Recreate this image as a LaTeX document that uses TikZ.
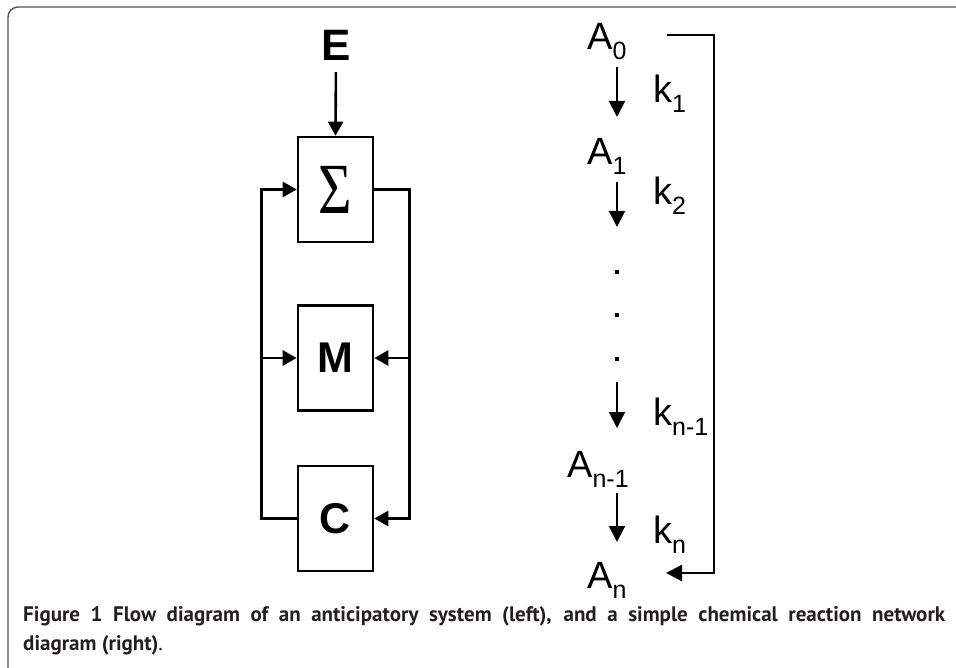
\documentclass[tikz,border=0pt]{standalone}
\usepackage{fontspec}
\setmainfont{Liberation Sans}
\newfontfamily\capfont{PT Sans}
\newfontfamily\sigfont{Liberation Serif}
\usetikzlibrary{arrows.meta,positioning}
\definecolor{captext}{HTML}{231F20}
\definecolor{framegray}{HTML}{555555}
\newcommand{\lowsub}[1]{\raisebox{-10pt}{\fontsize{25}{25}\selectfont #1}}

\begin{document}
\begin{tikzpicture}[x=1pt,y=-1pt,
    block/.style = {rectangle,draw,line width=2.6pt,minimum width=75pt,minimum height=105pt,inner sep=0pt,font=\fontsize{43}{43}\selectfont\bfseries},
    flow/.style = {line width=2.6pt,-{Triangle[length=14pt,width=15pt]}},
    react/.style = {line width=2pt,-{Triangle[length=16pt,width=16pt]}},
    chem/.style = {inner sep=0pt,anchor=base west,font=\fontsize{38}{38}\selectfont}]
\useasboundingbox (0,0) rectangle (956,668);
% frame
\draw[framegray,line width=1.4pt,rounded corners=10pt] (956,7) -- (8,7) -- (8,668);
% anticipatory system
\node[inner sep=0pt,anchor=base,font=\fontsize{44}{44}\selectfont\bfseries] (E) at (336,61) {E};
\node[block] (sig) at (335.5,189.5) {\sigfont\mdseries\fontsize{72}{72}\selectfont\scalebox{0.8}[1]{Σ}};
\node[block] (M) at (335.5,358) {M};
\node[block] (C) at (335.5,518.5) {C};
\coordinate[right=35pt of sig.east] (sigR);
\coordinate[left=35pt of C.west] (cL);
\draw[flow,shorten <=11pt] (E.south) -- (sig.north);
\draw[flow] (sig.east) -- (sigR) |- (C.east);
\draw[flow] (sigR |- M.east) -- (M.east);
\draw[flow] (C.west) -- (cL) |- (sig.west);
\draw[flow] (cL |- M.west) -- (M.west);
% reaction chain
\node[chem] (A0) at (587,50) {A\lowsub{0}};
\node[chem] (A1) at (587,165) {A\lowsub{1}};
\node[chem] (An1) at (567,477) {A\lowsub{n-1}};
\node[chem] (An) at (587,588) {A\lowsub{n}};
\foreach \lbl/\y/\name in {1/103/k1, 2/205/k2, n-1/425/kn1, n/543/kn}
    \node[chem] (\name) at (653,\y) {k\lowsub{\lbl}};
\foreach \ya/\yb [count=\i] in {67/117, 182/227, 382/428, 493/542}{
    \coordinate (r\i a) at (617,\ya);
    \coordinate (r\i b) at (617,\yb);
    \draw[react] (r\i a) -- (r\i b);
}
\foreach \y in {272,315,359}
    \fill (615,\y-2) rectangle (619,\y+2);
\coordinate (bt) at (667,35);
\coordinate (bb) at (666,573);
\coordinate (br) at (714,0);
\draw[line width=2.5pt,-{Triangle[length=16pt,width=16pt]}] (bt) -| (br |- bb) -- (bb);
% caption
\node[anchor=north west,inner sep=0pt,text width=922pt,align=justify,text=captext,
      font=\capfont\fontsize{21}{29}\selectfont] (cap) at (23,606)
    {\textbf{Figure 1 Flow diagram of an anticipatory system (left), and a simple chemical reaction network\linebreak diagram (right)}.};
\end{tikzpicture}
\end{document}
